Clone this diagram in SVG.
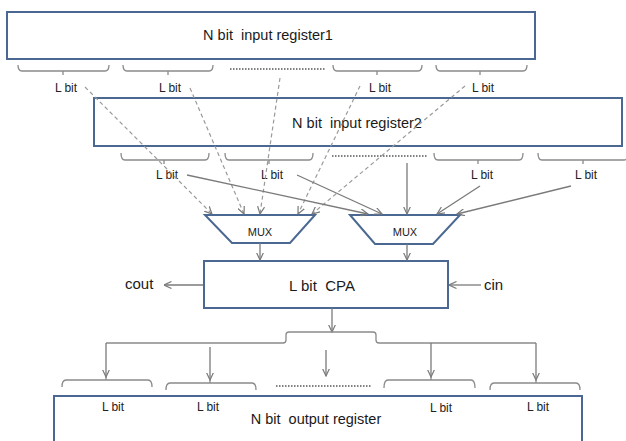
<svg xmlns="http://www.w3.org/2000/svg" width="626" height="441" viewBox="0 0 626 441">
<style>
text{white-space:pre}
.box{fill:#fff;stroke:#4a6892;stroke-width:2}
.title{font-family:"Liberation Sans",Arial,sans-serif;font-size:14.5px;fill:#1a1a1a;text-anchor:middle}
.lbl{font-family:"Liberation Sans",Arial,sans-serif;font-size:12px;fill:#222;text-anchor:middle}
.mux{font-family:"Liberation Sans",Arial,sans-serif;font-size:11px;fill:#222;text-anchor:middle}
.big{font-family:"Liberation Sans",Arial,sans-serif;font-size:15px;fill:#1a1a1a}
.brace{fill:none;stroke:#8a8a8a;stroke-width:1.3}
.dots{fill:none;stroke:#555;stroke-width:1.6;stroke-dasharray:1.5 1.5}
.dash{fill:none;stroke:#9a9a9a;stroke-width:1.2;stroke-dasharray:4 3;marker-end:url(#ah)}
.sol{fill:none;stroke:#7a7a7a;stroke-width:1.3;marker-end:url(#ah)}
</style>
<defs>
<marker id="ah" viewBox="0 0 8 8" refX="7.5" refY="4" markerWidth="8" markerHeight="8" markerUnits="userSpaceOnUse" orient="auto">
<path d="M0,0.5 L7.5,4 L0,7.5" fill="none" stroke="#7a7a7a" stroke-width="1.2"/>
</marker>
</defs>

<g id="reg1">
<rect class="box" x="7" y="12" width="528" height="47"/>
<text class="title" x="268" y="40" xml:space="preserve">N bit  input register1</text>
<path class="brace" d="M18,65 Q18,71 22,71 H105 Q109,71 109,65 M63,71 V75"/>
<path class="brace" d="M123,65 Q123,71 127,71 H209 Q213,71 213,65 M168,71 V75"/>
<path class="dots" d="M230,69 H326"/>
<path class="brace" d="M333,65 Q333,71 337,71 H418 Q422,71 422,65 M377,71 V75"/>
<path class="brace" d="M436,65 Q436,71 440,71 H523 Q527,71 527,65 M480,71 V75"/>
<text class="lbl" x="66" y="92">L bit</text>
<text class="lbl" x="170" y="92">L bit</text>
<text class="lbl" x="380" y="92">L bit</text>
<text class="lbl" x="483" y="92">L bit</text>
</g>

<g id="reg2">
<rect class="box" x="94" y="98" width="528" height="48"/>
<text class="title" x="357" y="128" xml:space="preserve">N bit  input register2</text>
<path class="brace" d="M121,153 Q121,160 125,160 H205 Q209,160 209,153 M164,160 V164"/>
<path class="brace" d="M225,153 Q225,160 229,160 H309 Q313,160 313,153 M269,160 V164"/>
<path class="dots" d="M332,156 H427"/>
<path class="brace" d="M434,153 Q434,160 438,160 H519 Q523,160 523,153 M478,160 V164"/>
<path class="brace" d="M538,153 Q538,160 542,160 H624 Q628,160 628,153 M583,160 V164"/>
<text class="lbl" x="167" y="179">L bit</text>
<text class="lbl" x="272" y="179">L bit</text>
<text class="lbl" x="482" y="179">L bit</text>
<text class="lbl" x="586" y="179">L bit</text>
</g>

<g id="mux1">
<polygon class="box" points="205,215 315,215 290,243 232,243"/>
<text class="mux" x="260" y="236">MUX</text>
</g>

<g id="mux2">
<polygon class="box" points="350,215 460,215 433,244 375,244"/>
<text class="mux" x="405" y="236">MUX</text>
</g>

<g id="cpa">
<rect class="box" x="204" y="261" width="244" height="47"/>
<text class="big" x="322" y="291" text-anchor="middle" xml:space="preserve">L bit  CPA</text>
</g>

<g id="cout">
<text class="big" x="125" y="289">cout</text>
</g>
<g id="cin">
<text class="big" x="484" y="290">cin</text>
</g>

<g id="outreg">
<rect class="box" x="54" y="396" width="528" height="55"/>
<text class="title" x="316" y="424" xml:space="preserve">N bit  output register</text>
<text class="lbl" x="113" y="411">L bit</text>
<text class="lbl" x="208" y="411">L bit</text>
<text class="lbl" x="441" y="412">L bit</text>
<text class="lbl" x="538" y="411">L bit</text>
<path class="brace" d="M62,387 Q62,380 66,380 H148 Q152,380 152,387 M106,380 V377"/>
<path class="brace" d="M166,390 Q166,383 170,383 H252 Q256,383 256,390 M210,383 V380"/>
<path class="dots" d="M276,386 H372"/>
<path class="brace" d="M384,388 Q384,380 388,380 H471 Q475,380 475,388 M431,380 V377"/>
<path class="brace" d="M490,390 Q490,383 494,383 H576 Q580,383 580,390 M536,383 V380"/>
</g>

<g id="connectors">
<path class="dash" d="M85,87 L212,214"/>
<path class="dash" d="M190,88 L244,214"/>
<path class="dash" d="M280,78 L260,214"/>
<path class="dash" d="M360,86 L298,214"/>
<path class="dash" d="M465,86 L312,214"/>
<path class="sol" d="M187,175 L368,214"/>
<path class="sol" d="M297,175 L382,214"/>
<path class="sol" d="M407,163 L407,214"/>
<path class="sol" d="M480,186 L437,214"/>
<path class="sol" d="M571,186 L457,214"/>
<path class="sol" d="M260,243 V260"/>
<path class="sol" d="M407,244 V260"/>
<path class="sol" d="M203,285 H164"/>
<path class="sol" d="M481,285 H449"/>
<path class="sol" d="M332,308 V332"/>
<path class="brace" d="M106,343 H283 Q286,343 286,340 V335 Q286,332 289,332 H373 Q376,332 376,335 V340 Q376,343 379,343 H536"/>
<path class="sol" d="M106,343 V377"/>
<path class="sol" d="M210,347 V380"/>
<path class="sol" d="M326,350 V376"/>
<path class="sol" d="M431,343 V377"/>
<path class="sol" d="M536,343 V380"/>
</g>
</svg>
